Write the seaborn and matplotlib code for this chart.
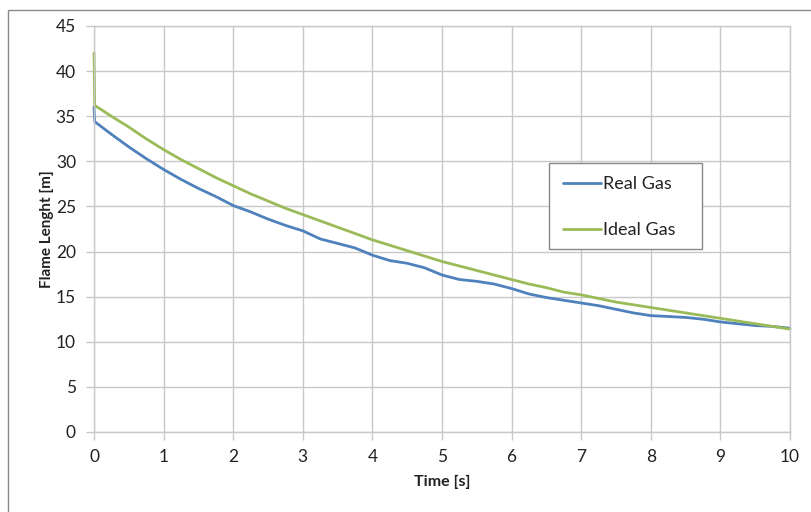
import matplotlib
matplotlib.use("Agg")
import matplotlib.pyplot as plt
import seaborn as sns
import pandas as pd
from matplotlib.patches import Rectangle

time_s = [0, 0.01, 0.25, 0.5, 0.75, 1, 1.25, 1.5, 1.75, 2, 2.25, 2.5, 2.75, 3, 3.25,
          3.5, 3.75, 4, 4.25, 4.5, 4.75, 5, 5.25, 5.5, 5.75, 6, 6.25, 6.5, 6.75, 7,
          7.25, 7.5, 7.75, 8, 8.25, 8.5, 8.75, 9, 9.25, 9.5, 9.75, 10]
real_gas = [36.0, 34.4, 33.0, 31.6, 30.3, 29.1, 28.0, 27.0, 26.1, 25.1, 24.4, 23.6,
            22.9, 22.3, 21.4, 20.9, 20.4, 19.6, 19.0, 18.7, 18.2, 17.4, 16.9, 16.7,
            16.4, 15.9, 15.3, 14.9, 14.6, 14.3, 14.0, 13.6, 13.2, 12.9, 12.8, 12.7,
            12.5, 12.2, 12.0, 11.8, 11.7, 11.5]
ideal_gas = [42.0, 36.2, 35.0, 33.8, 32.5, 31.3, 30.2, 29.2, 28.2, 27.3, 26.4, 25.6,
             24.8, 24.1, 23.4, 22.7, 22.0, 21.3, 20.7, 20.1, 19.5, 18.9, 18.4, 17.9,
             17.4, 16.9, 16.4, 16.0, 15.5, 15.2, 14.8, 14.4, 14.1, 13.8, 13.5, 13.2,
             12.9, 12.6, 12.3, 12.0, 11.7, 11.4]
series_names = ["Real Gas", "Ideal Gas"]
x_ticks = list(range(0, 11))
y_ticks = list(range(0, 46, 5))

df = pd.concat([
    pd.DataFrame({"Time": time_s, "Length": real_gas, "Series": series_names[0]}),
    pd.DataFrame({"Time": time_s, "Length": ideal_gas, "Series": series_names[1]}),
], ignore_index=True)

sns.set_style("white")
plt.rcParams["font.family"] = ["Lato", "DejaVu Sans"]

W, H = 811, 512
fig = plt.figure(figsize=(W / 100, H / 100), dpi=100)
ax = fig.add_axes([94 / W, 1 - 432 / H, (790 - 94) / W, (432 - 26) / H])

grid_c = "#c8c8c8"
sns.lineplot(data=df, x="Time", y="Length", hue="Series", sort=False,
             palette={"Real Gas": "#4f81bd", "Ideal Gas": "#9bbb59"},
             linewidth=2.0, ax=ax, legend=True)
for ln in ax.get_lines():
    ln.set_clip_on(False)

ax.set_xlim(0, 10)
ax.set_ylim(0, 45)
ax.set_xticks(x_ticks)
ax.set_yticks(y_ticks)
ax.grid(True, color=grid_c, linewidth=1.0)
ax.set_axisbelow(True)
for s in ax.spines.values():
    s.set_color(grid_c)
    s.set_linewidth(1.0)
ax.tick_params(axis="both", length=6, width=1.0, color=grid_c,
               labelsize=12.5, labelcolor="#222222", bottom=True, left=True)
ax.tick_params(axis="x", pad=6)
ax.tick_params(axis="y", pad=7)
ax.set_xlabel("Time [s]", fontsize=11.5, fontweight="bold", color="#222222", labelpad=7)
ax.set_ylabel("Flame Lenght [m]", fontsize=11, fontweight="bold", color="#222222", labelpad=1)

handles, labels = ax.get_legend_handles_labels()
leg = ax.legend(handles, labels, loc="upper left",
                bbox_to_anchor=(563 / W, 1 - 176 / H), bbox_transform=fig.transFigure,
                fontsize=13, frameon=False,
                handlelength=2.1, handletextpad=0.1, labelspacing=1.68,
                borderpad=0.0, borderaxespad=0.0)
for t in leg.get_texts():
    t.set_color("#222222")
leg.set_zorder(10)

# legend frame
frame = Rectangle((549 / W, 1 - 249 / H), (702 - 549) / W, (249 - 163) / H,
                  transform=fig.transFigure, fill=True, facecolor="white",
                  edgecolor="#888888", linewidth=1.0, zorder=6, clip_on=False)
ax.add_artist(frame)

fig.patches.append(Rectangle((8 / W, -0.1), 1.2, 1 - 10 / H + 0.1,
                             transform=fig.transFigure, fill=False,
                             edgecolor="#8a8a8a", linewidth=1.0))

fig.savefig("out.png", dpi=100)
